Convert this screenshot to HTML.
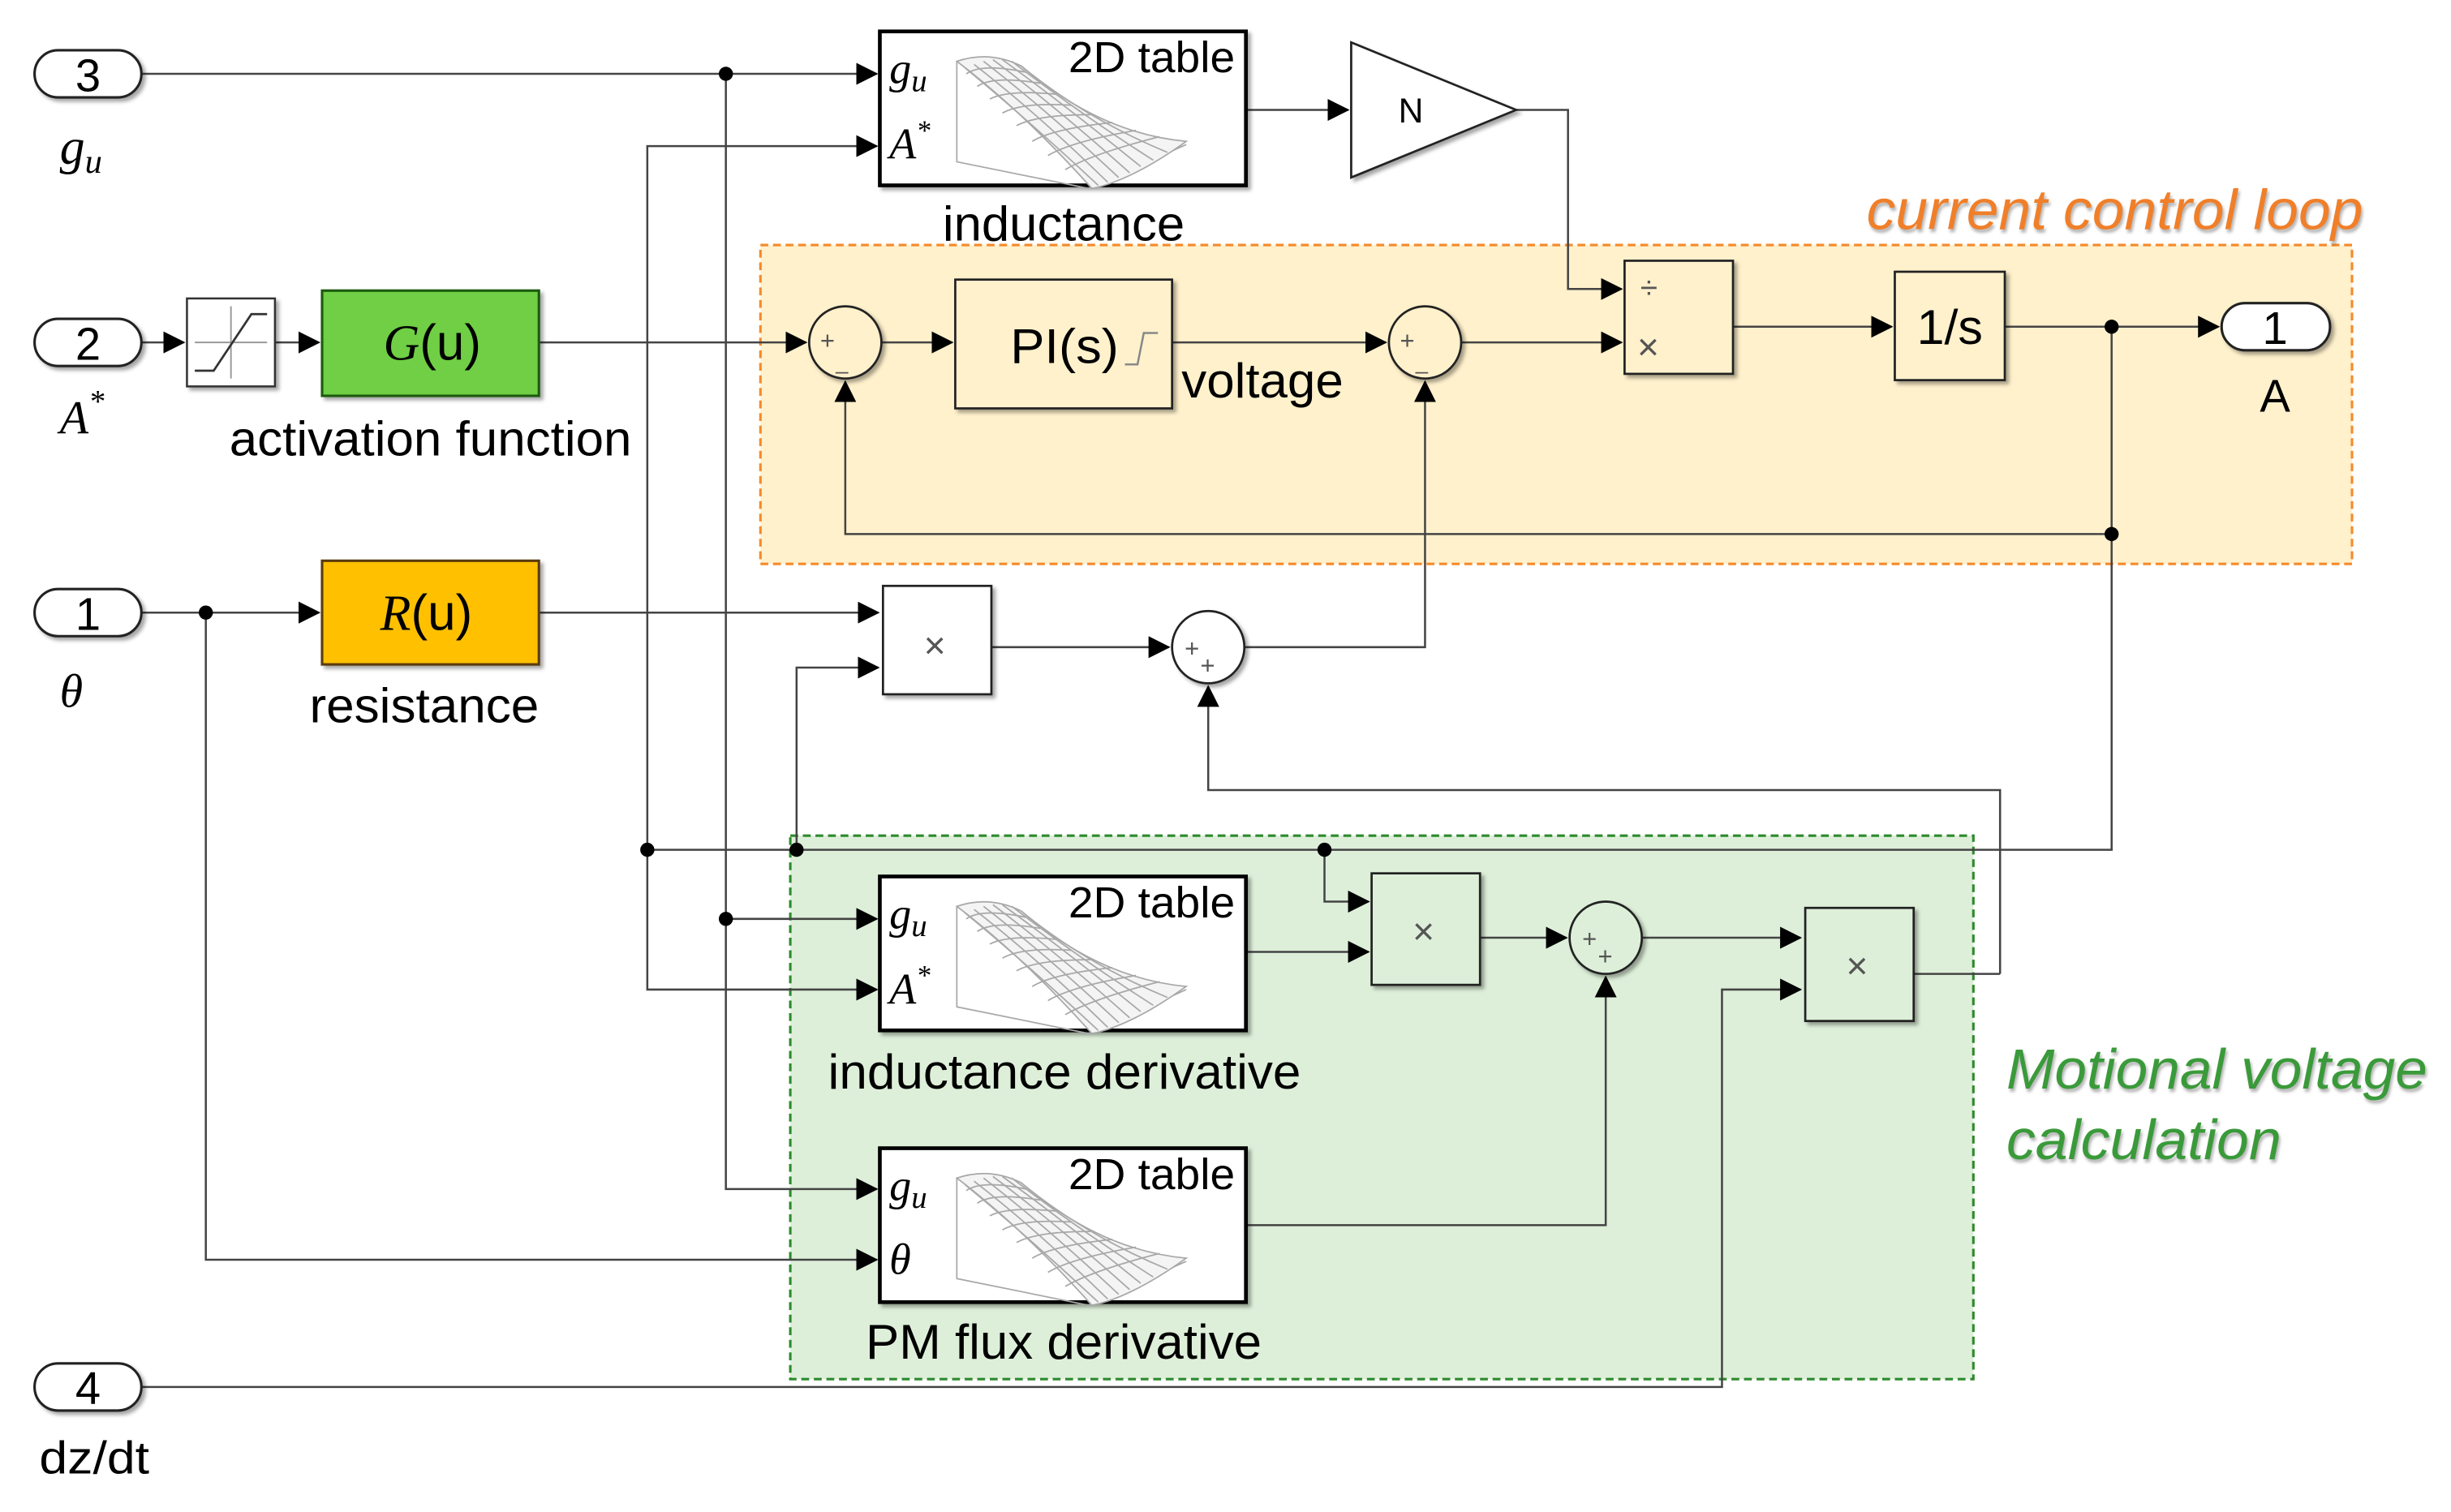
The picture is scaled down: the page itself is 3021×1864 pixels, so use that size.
<!DOCTYPE html>
<html><head><meta charset="utf-8"><style>
html,body{margin:0;padding:0;background:#fff;}
svg{display:block;}
text{font-family:"Liberation Sans",sans-serif;}
.m{font-family:"Liberation Serif",serif;font-style:italic;}
</style></head><body>
<svg width="3021" height="1864" viewBox="0 0 1560 962.6" preserveAspectRatio="none" xmlns="http://www.w3.org/2000/svg">
<defs>
<marker id="a" markerUnits="userSpaceOnUse" markerWidth="14" markerHeight="14" viewBox="0 0 14 14" refX="13" refY="7" orient="auto">
<path d="M0,0 L14,7 L0,14 Z" fill="#000"/>
</marker>
<filter id="sh" x="-5%" y="-5%" width="115%" height="120%"><feDropShadow dx="2" dy="2" stdDeviation="1.2" flood-color="#000" flood-opacity="0.35"/></filter>
<g id="mesh" fill="none" stroke="#a8a8a8" stroke-width="0.9">
<path d="M49,19 L49,83 L133,100 L195,72"/>
<path d="M49,19 Q70,12 90,22 Q140,65 195,70 Q160,95 135,100 Q90,50 49,19 Z" fill="#f4f4f4"/>
<path d="M54,23 Q94,56 139,98 M60,21 Q100,52 145,96 M66,19 Q106,50 152,93 M72,18 Q112,48 159,90 M78,18 Q118,47 166,86 M84,19 Q124,50 174,82 M90,22 Q130,55 183,77"/>
<path d="M55,27 Q65,20 93,26 M62,35 Q72,28 102,33 M70,43 Q82,37 112,40 M78,52 Q90,45 122,47 M87,60 Q100,53 134,53 M97,70 Q110,62 148,58 M107,79 Q122,70 163,63 M118,88 Q135,78 178,67"/>
</g>
</defs>

<rect x="484" y="156" width="1013" height="203" fill="#fff1cc" stroke="#f58a2a" stroke-width="1.6" stroke-dasharray="5,3"/>
<rect x="503" y="532" width="753" height="346" fill="#ddefd9" stroke="#2d8a2d" stroke-width="1.6" stroke-dasharray="5,3"/>
<text x="1188" y="146" font-size="36" font-style="italic" fill="#f07f2a" textLength="316" lengthAdjust="spacingAndGlyphs" style="filter:drop-shadow(1px 2px 1px rgba(0,0,0,0.3))">current control loop</text>
<text x="1277" y="693" font-size="36" font-style="italic" fill="#3a9a3a" textLength="268" lengthAdjust="spacingAndGlyphs" style="filter:drop-shadow(1px 2px 1px rgba(0,0,0,0.3))">Motional voltage</text>
<text x="1277" y="738" font-size="36" font-style="italic" fill="#3a9a3a" textLength="175" lengthAdjust="spacingAndGlyphs" style="filter:drop-shadow(1px 2px 1px rgba(0,0,0,0.3))">calculation</text>

<g fill="none" stroke="#444" stroke-width="1.3">
<path d="M90,47 H558" marker-end="url(#a)"/>
<path d="M412,541 V93 H558" marker-end="url(#a)"/>
<path d="M793,70 H858" marker-end="url(#a)"/>
<path d="M965,70 H998 V184 H1032" marker-end="url(#a)"/>
<path d="M90,218 H117" marker-end="url(#a)"/>
<path d="M175,218 H203" marker-end="url(#a)"/>
<path d="M343,218 H513" marker-end="url(#a)"/>
<path d="M561,218 H606" marker-end="url(#a)"/>
<path d="M746,218 H882" marker-end="url(#a)"/>
<path d="M930,218 H1032" marker-end="url(#a)"/>
<path d="M1103,208 H1204" marker-end="url(#a)"/>
<path d="M1276,208 H1412" marker-end="url(#a)"/>
<path d="M1344,208 V541 H412"/>
<path d="M1344,340 H538 V243" marker-end="url(#a)"/>
<path d="M90,390 H203" marker-end="url(#a)"/>
<path d="M343,390 H559" marker-end="url(#a)"/>
<path d="M507,541 V425 H559" marker-end="url(#a)"/>
<path d="M631,412 H744" marker-end="url(#a)"/>
<path d="M792,412 H907 V243" marker-end="url(#a)"/>
<path d="M1273,620 V503 H769 V437" marker-end="url(#a)"/>
<path d="M1218,620 H1273"/>
<path d="M131,390 V802 H558" marker-end="url(#a)"/>
<path d="M462,47 V757 H558" marker-end="url(#a)"/>
<path d="M462,585 H558" marker-end="url(#a)"/>
<path d="M412,541 V630 H558" marker-end="url(#a)"/>
<path d="M843,541 V574 H871" marker-end="url(#a)"/>
<path d="M793,606 H871" marker-end="url(#a)"/>
<path d="M942,597 H997" marker-end="url(#a)"/>
<path d="M793,780 H1022 V622" marker-end="url(#a)"/>
<path d="M1045,597 H1146" marker-end="url(#a)"/>
<path d="M90,883 H1096 V630 H1146" marker-end="url(#a)"/>
</g>
<g fill="#000">
<circle cx="462" cy="47" r="4.5"/><circle cx="1344" cy="208" r="4.5"/><circle cx="1344" cy="340" r="4.5"/>
<circle cx="131" cy="390" r="4.5"/><circle cx="412" cy="541" r="4.5"/><circle cx="507" cy="541" r="4.5"/>
<circle cx="843" cy="541" r="4.5"/><circle cx="462" cy="585" r="4.5"/>
</g>

<g fill="#fff" stroke="#222" stroke-width="1.6" filter="url(#sh)">
<rect x="22" y="32" width="68" height="30" rx="15"/>
<rect x="22" y="203" width="68" height="30" rx="15"/>
<rect x="22" y="375" width="68" height="30" rx="15"/>
<rect x="22" y="868" width="68" height="30" rx="15"/>
<rect x="1414" y="193" width="69" height="30" rx="15"/>
</g>
<g font-size="29" text-anchor="middle">
<text x="56" y="58">3</text><text x="56" y="229">2</text><text x="56" y="401">1</text><text x="56" y="894">4</text><text x="1448" y="219">1</text>
<text x="1448" y="262">A</text>
<text x="60" y="938" textLength="70" lengthAdjust="spacingAndGlyphs">dz/dt</text>
</g>
<text class="m" x="38" y="104" font-size="32">g<tspan font-size="22" dy="6">u</tspan></text>
<text class="m" x="38" y="276" font-size="30">A<tspan font-size="20" dy="-14">*</tspan></text>
<text class="m" x="38" y="450" font-size="30">θ</text>

<g filter="url(#sh)">
<rect x="119" y="190" width="56" height="56" fill="#fff" stroke="#333" stroke-width="1.3"/>
<rect x="205" y="185" width="138" height="67" fill="#6fcf45" stroke="#1a5a10" stroke-width="1.6"/>
<rect x="205" y="357" width="138" height="66" fill="#ffc000" stroke="#5a3a10" stroke-width="1.6"/>
<rect x="560" y="20" width="233" height="98" fill="#fff" stroke="#000" stroke-width="2.4"/>
<rect x="560" y="558" width="233" height="98" fill="#fff" stroke="#000" stroke-width="2.4"/>
<rect x="560" y="731" width="233" height="98" fill="#fff" stroke="#000" stroke-width="2.4"/>
<path d="M860,27 L965,70 L860,113 Z" fill="#fff" stroke="#222" stroke-width="1.4"/>
<rect x="608" y="178" width="138" height="82" fill="#fff1cc" stroke="#222" stroke-width="1.4"/>
<rect x="1034" y="166" width="69" height="72" fill="#fff1cc" stroke="#222" stroke-width="1.4"/>
<rect x="1206" y="173" width="70" height="69" fill="#fff1cc" stroke="#222" stroke-width="1.4"/>
<rect x="562" y="373" width="69" height="69" fill="#fff" stroke="#222" stroke-width="1.4"/>
<rect x="873" y="556" width="69" height="71" fill="#ddefd9" stroke="#222" stroke-width="1.4"/>
<rect x="1149" y="578" width="69" height="72" fill="#ddefd9" stroke="#222" stroke-width="1.4"/>
<circle cx="538" cy="218" r="23" fill="#fff1cc" stroke="#222" stroke-width="1.4"/>
<circle cx="907" cy="218" r="23" fill="#fff1cc" stroke="#222" stroke-width="1.4"/>
<circle cx="769" cy="412" r="23" fill="#fff" stroke="#222" stroke-width="1.4"/>
<circle cx="1022" cy="597" r="23" fill="#ddefd9" stroke="#222" stroke-width="1.4"/>
</g>
<g fill="none" stroke="#999" stroke-width="1"><path d="M124,218 H170 M147,195 V241"/></g>
<path d="M124,236 H136 L160,200 H170" fill="none" stroke="#333" stroke-width="1.4"/>
<text class="m" x="244" y="229" font-size="32">G<tspan font-style="normal" font-family="Liberation Sans">(u)</tspan></text>
<text class="m" x="242" y="401" font-size="32">R<tspan font-style="normal" font-family="Liberation Sans">(u)</tspan></text>
<g font-size="31">
<text x="146" y="290" textLength="256" lengthAdjust="spacingAndGlyphs">activation function</text>
<text x="197" y="460" textLength="146" lengthAdjust="spacingAndGlyphs">resistance</text>
<text x="600" y="153" textLength="154" lengthAdjust="spacingAndGlyphs">inductance</text>
<text x="527" y="693" textLength="301" lengthAdjust="spacingAndGlyphs">inductance derivative</text>
<text x="551" y="865" textLength="252" lengthAdjust="spacingAndGlyphs">PM flux derivative</text>
<text x="752" y="253" textLength="103" lengthAdjust="spacingAndGlyphs">voltage</text>
</g>

<use href="#mesh" x="560" y="20"/>
<use href="#mesh" x="560" y="558"/>
<use href="#mesh" x="560" y="731"/>
<g font-size="28"><text x="680" y="46" textLength="106" lengthAdjust="spacingAndGlyphs">2D table</text><text x="680" y="584" textLength="106" lengthAdjust="spacingAndGlyphs">2D table</text><text x="680" y="757" textLength="106" lengthAdjust="spacingAndGlyphs">2D table</text></g>
<g font-size="28">
<text class="m" x="566" y="53">g<tspan font-size="20" dy="5">u</tspan></text>
<text class="m" x="566" y="101">A<tspan font-size="18" dy="-12">*</tspan></text>
<text class="m" x="566" y="591">g<tspan font-size="20" dy="5">u</tspan></text>
<text class="m" x="566" y="639">A<tspan font-size="18" dy="-12">*</tspan></text>
<text class="m" x="566" y="764">g<tspan font-size="20" dy="5">u</tspan></text>
<text class="m" x="566" y="811">θ</text>
</g>

<text x="898" y="78" font-size="22" text-anchor="middle">N</text>
<text x="643" y="231" font-size="31" textLength="69" lengthAdjust="spacingAndGlyphs">PI(s)</text>
<path d="M716,232 H724 L728,212 H737" fill="none" stroke="#888" stroke-width="1.3"/>
<text x="1220" y="219" font-size="31" textLength="42" lengthAdjust="spacingAndGlyphs">1/s</text>
<g font-size="14" fill="#555">
<text x="1044" y="190" font-size="20">÷</text><text x="1042" y="229" font-size="24">×</text>
<text x="588" y="419" font-size="24">×</text><text x="899" y="601" font-size="24">×</text><text x="1175" y="623" font-size="24">×</text>
<text x="522" y="222" font-size="16">+</text><text x="532" y="235">_</text>
<text x="891" y="222" font-size="16">+</text><text x="901" y="235">_</text>
<text x="754" y="418" font-size="16">+</text><text x="764" y="429" font-size="16">+</text>
<text x="1007" y="603" font-size="16">+</text><text x="1017" y="614" font-size="16">+</text>
</g>
</svg>
</body></html>
